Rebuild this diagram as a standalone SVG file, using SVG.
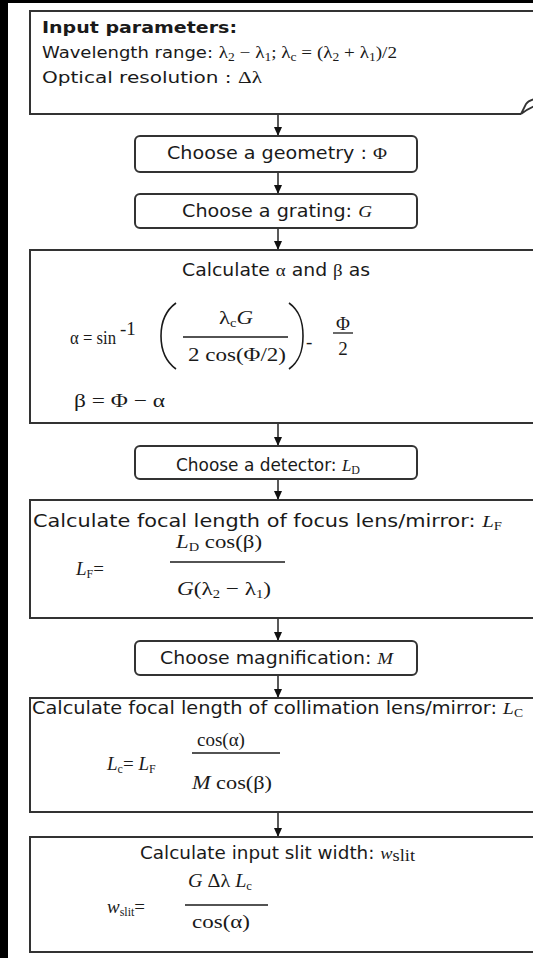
<svg xmlns="http://www.w3.org/2000/svg" width="533" height="958" viewBox="0 0 533 958">
<defs>
<style>
.bx{fill:#fff;stroke:#333;stroke-width:2}
.cn{stroke:#222;stroke-width:1.5;fill:none}
.s{font-family:"DejaVu Sans",Verdana,sans-serif;font-size:17px;fill:#1a1a1a}
.st{font-family:"DejaVu Sans",Verdana,sans-serif;font-size:16px;fill:#1a1a1a}
.m{font-family:"Liberation Serif","Times New Roman",serif;font-size:19px;fill:#1a1a1a}
.mt{font-family:"Liberation Serif","Times New Roman",serif;font-size:17px}
.i{font-style:italic}
.sb{font-size:12px}
.ln{stroke:#1a1a1a;stroke-width:1.3}
.pr{fill:none;stroke:#1a1a1a;stroke-width:1.6}
</style>
<marker id="ah" markerWidth="10" markerHeight="10" refX="9" refY="5" orient="auto" markerUnits="userSpaceOnUse"><path d="M0,1 L9,5 L0,9 z" fill="#111"/></marker>
</defs>
<rect x="0" y="0" width="533" height="958" fill="#fff"/>
<rect x="0" y="0" width="8" height="958" fill="#000"/>
<rect x="0" y="0" width="533" height="3" fill="#000"/>

<g id="connectors">
<line class="cn" x1="278" y1="115" x2="278" y2="136" marker-end="url(#ah)"/>
<line class="cn" x1="278" y1="172" x2="278" y2="194" marker-end="url(#ah)"/>
<line class="cn" x1="278" y1="228" x2="278" y2="250" marker-end="url(#ah)"/>
<line class="cn" x1="278" y1="423" x2="278" y2="446" marker-end="url(#ah)"/>
<line class="cn" x1="278" y1="479" x2="278" y2="500" marker-end="url(#ah)"/>
<line class="cn" x1="278" y1="618" x2="278" y2="641" marker-end="url(#ah)"/>
<line class="cn" x1="278" y1="675" x2="278" y2="698" marker-end="url(#ah)"/>
<line class="cn" x1="278" y1="812" x2="278" y2="837" marker-end="url(#ah)"/>
</g>

<g id="input">
<rect x="30" y="11" width="520" height="103" fill="#fff"/>
<path d="M521 114 H30 V11 H545" fill="none" stroke="#333" stroke-width="2"/>
<path d="M521 114 L526 104 C528 101 531 100 535 99 M521 114 C525 111 530 108 535 106" fill="none" stroke="#333" stroke-width="1.8"/>
<text class="st" x="42" y="33" font-weight="bold" textLength="195" lengthAdjust="spacingAndGlyphs">Input parameters:</text>
<text class="st" x="42" y="58" textLength="355" lengthAdjust="spacingAndGlyphs">Wavelength range: <tspan class="mt">λ</tspan><tspan class="mt sb" dy="3">2</tspan><tspan class="mt" dy="-3"> − λ</tspan><tspan class="mt sb" dy="3">1</tspan><tspan class="mt" dy="-3">; λ</tspan><tspan class="mt sb" dy="3">c</tspan><tspan class="mt" dy="-3"> = (λ</tspan><tspan class="mt sb" dy="3">2</tspan><tspan class="mt" dy="-3"> + λ</tspan><tspan class="mt sb" dy="3">1</tspan><tspan class="mt" dy="-3">)/2</tspan></text>
<text class="st" x="42" y="83" textLength="220" lengthAdjust="spacingAndGlyphs">Optical resolution : <tspan class="mt">Δλ</tspan></text>
</g>

<g id="geometry">
<rect class="bx" x="135" y="136" width="282" height="36" rx="5"/>
<text class="s" x="167" y="159" textLength="220" lengthAdjust="spacingAndGlyphs">Choose a geometry : <tspan class="mt">Φ</tspan></text>
</g>

<g id="grating">
<rect class="bx" x="135" y="194" width="282" height="34" rx="5"/>
<text class="s" x="182" y="217" textLength="190" lengthAdjust="spacingAndGlyphs">Choose a grating: <tspan class="mt i">G</tspan></text>
</g>

<g id="angles">
<rect class="bx" x="30" y="250" width="520" height="173"/>
<text class="s" x="182" y="276" textLength="188" lengthAdjust="spacingAndGlyphs">Calculate <tspan class="mt">α</tspan> and <tspan class="mt">β</tspan> as</text>
<text class="m" x="70" y="344" textLength="46" lengthAdjust="spacingAndGlyphs">α = sin</text>
<text class="m" x="120" y="335" font-size="12">-1</text>
<path class="pr" d="M176 303 C165 311 161 322 161 336 C161 350 165 361 176 369"/>
<path class="pr" d="M289 303 C300 311 303 322 303 336 C303 350 300 361 289 369"/>
<text class="m" x="219" y="324" textLength="34" lengthAdjust="spacingAndGlyphs">λ<tspan class="sb" dy="3">c</tspan><tspan class="i" dy="-3">G</tspan></text>
<line class="ln" x1="183" y1="337" x2="288" y2="337"/>
<text class="m" x="188" y="361" textLength="98" lengthAdjust="spacingAndGlyphs">2 cos(Φ/2)</text>
<text class="m" x="306" y="348" font-size="12">-</text>
<text class="m" x="343" y="330" text-anchor="middle">Φ</text>
<line class="ln" x1="333" y1="333" x2="353" y2="333"/>
<text class="m" x="343" y="355" text-anchor="middle">2</text>
<text class="m" x="74" y="407" textLength="91" lengthAdjust="spacingAndGlyphs">β = Φ − α</text>
</g>

<g id="detector">
<rect class="bx" x="135" y="446" width="282" height="33" rx="5"/>
<text class="s" x="176" y="471" textLength="184" lengthAdjust="spacingAndGlyphs">Choose a detector: <tspan class="mt i">L</tspan><tspan class="mt sb" dy="3">D</tspan></text>
</g>

<g id="focus">
<rect class="bx" x="30" y="500" width="520" height="118"/>
<text class="s" x="33" y="527" textLength="469" lengthAdjust="spacingAndGlyphs">Calculate focal length of focus lens/mirror: <tspan class="mt i">L</tspan><tspan class="mt sb" dy="3">F</tspan></text>
<text class="m" x="76" y="575"><tspan class="i">L</tspan><tspan class="sb" dy="3">F</tspan><tspan dy="-3">=</tspan></text>
<text class="m" x="176" y="548" textLength="86" lengthAdjust="spacingAndGlyphs"><tspan class="i">L</tspan><tspan class="sb" dy="3">D</tspan><tspan dy="-3"> cos(β)</tspan></text>
<line class="ln" x1="170" y1="562" x2="285" y2="562"/>
<text class="m" x="177" y="595" textLength="94" lengthAdjust="spacingAndGlyphs"><tspan class="i">G</tspan>(λ<tspan class="sb" dy="3">2</tspan><tspan dy="-3"> − λ</tspan><tspan class="sb" dy="3">1</tspan><tspan dy="-3">)</tspan></text>
</g>

<g id="magnification">
<rect class="bx" x="135" y="641" width="282" height="34" rx="5"/>
<text class="s" x="160" y="664" textLength="233" lengthAdjust="spacingAndGlyphs">Choose magnification: <tspan class="mt i">M</tspan></text>
</g>

<g id="collimation">
<rect class="bx" x="30" y="698" width="520" height="114"/>
<text class="s" x="32" y="714" textLength="491" lengthAdjust="spacingAndGlyphs">Calculate focal length of collimation lens/mirror: <tspan class="mt i">L</tspan><tspan class="mt sb" dy="3">C</tspan></text>
<text class="m" x="107" y="770"><tspan class="i">L</tspan><tspan class="sb" dy="3">c</tspan><tspan dy="-3">= </tspan><tspan class="i">L</tspan><tspan class="sb" dy="3">F</tspan></text>
<text class="m" x="197" y="746">cos(α)</text>
<line class="ln" x1="192" y1="753" x2="280" y2="753"/>
<text class="m" x="192" y="789" textLength="80" lengthAdjust="spacingAndGlyphs"><tspan class="i">M</tspan> cos(β)</text>
</g>

<g id="slit">
<rect class="bx" x="30" y="837" width="520" height="115"/>
<text class="s" x="140" y="859" textLength="275" lengthAdjust="spacingAndGlyphs">Calculate input slit width: <tspan class="mt i">w</tspan><tspan class="mt" font-size="9" dy="2">slit</tspan></text>
<text class="m" x="188" y="887" textLength="64" lengthAdjust="spacingAndGlyphs"><tspan class="i">G</tspan> Δλ <tspan class="i">L</tspan><tspan class="sb" dy="3">c</tspan></text>
<line class="ln" x1="185" y1="905" x2="268" y2="905"/>
<text class="m" x="107" y="913"><tspan class="i">w</tspan><tspan class="sb" dy="3">slit</tspan><tspan dy="-3">=</tspan></text>
<text class="m" x="192" y="928" textLength="58" lengthAdjust="spacingAndGlyphs">cos(α)</text>
</g>
</svg>
